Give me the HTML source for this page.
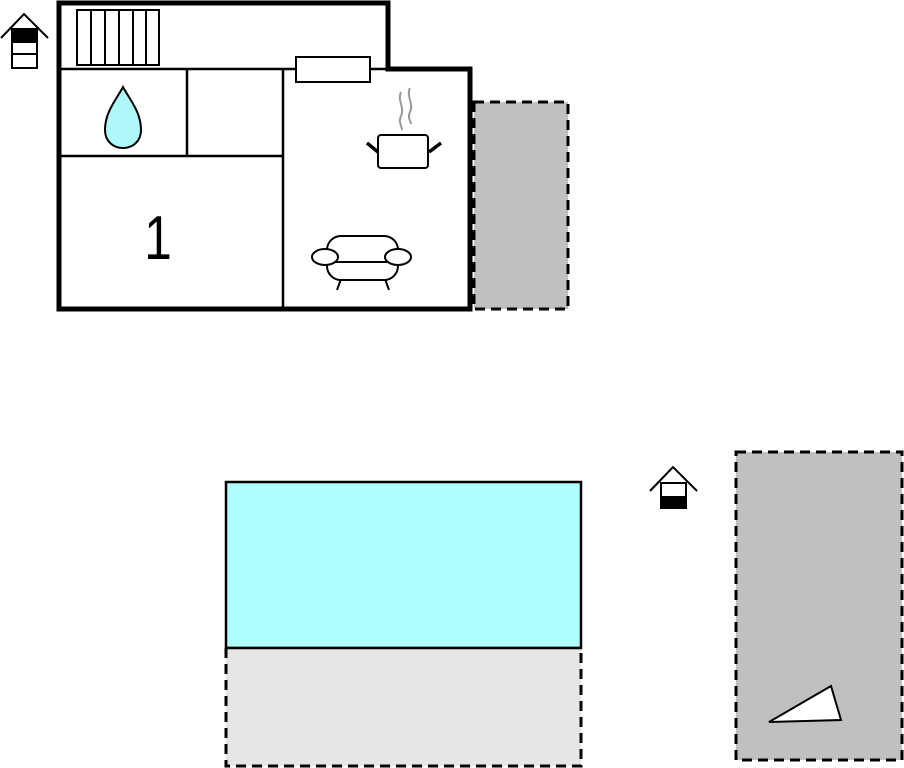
<!DOCTYPE html>
<html><head><style>body{margin:0;background:#fff;}svg{display:block}</style></head>
<body>
<svg width="904" height="768" viewBox="0 0 904 768" xmlns="http://www.w3.org/2000/svg">
<rect x="0" y="0" width="904" height="768" fill="#fff"/>
<rect x="474" y="102" width="94" height="207" fill="#c0c0c0" stroke="#000" stroke-width="3" stroke-dasharray="10,6"/>
<path d="M59,3 H388 V69 H470 V309 H59 Z" fill="#fff" stroke="#000" stroke-width="5"/>
<g stroke="#000" stroke-width="2.5" fill="none">
<line x1="59" y1="69" x2="388" y2="69"/>
<line x1="187" y1="69" x2="187" y2="156"/>
<line x1="59" y1="156" x2="283" y2="156"/>
<line x1="283" y1="69" x2="283" y2="307"/>
</g>
<g stroke="#000" stroke-width="2" fill="#fff">
<rect x="77" y="10" width="82" height="55"/>
<line x1="91" y1="10" x2="91" y2="65"/><line x1="105" y1="10" x2="105" y2="65"/>
<line x1="119" y1="10" x2="119" y2="65"/><line x1="133" y1="10" x2="133" y2="65"/>
<line x1="146" y1="10" x2="146" y2="65"/>
</g>
<rect x="296" y="57" width="74" height="25" fill="#fff" stroke="#000" stroke-width="2"/>
<path d="M123,87 C116,100 105,112 105,130 C105,142 114,148 123,148 C132,148 141,142 141,130 C141,112 130,100 123,87 Z" fill="#aef8fa" stroke="#000" stroke-width="2"/>
<text x="0" y="0" font-family="Liberation Sans, sans-serif" font-size="62" text-anchor="middle" transform="translate(158,259) scale(0.8,1)">1</text>
<g fill="none" stroke="#999" stroke-width="2">
<path d="M401,92 C397,100 405,108 401,116 C398,122 402,126 402,130"/>
<path d="M410,88 C406,96 414,104 410,112 C407,118 411,121 411,124"/>
</g>
<rect x="378" y="135" width="50" height="33" rx="3" fill="#fff" stroke="#000" stroke-width="2"/>
<g stroke="#000" stroke-width="3.5"><line x1="367" y1="143" x2="378" y2="152"/><line x1="441" y1="143" x2="429" y2="152"/></g>
<g fill="#fff" stroke="#000" stroke-width="2">
<line x1="341" y1="279" x2="337" y2="290"/><line x1="385" y1="279" x2="389" y2="290"/>
<rect x="327" y="236" width="71" height="44" rx="14"/>
<line x1="333" y1="262" x2="392" y2="262"/>
<ellipse cx="325" cy="257" rx="13" ry="8"/>
<ellipse cx="398" cy="257" rx="13" ry="8"/>
</g>
<g stroke="#000" stroke-width="2" fill="#fff">
<polyline points="1,38 24,14 48,38" fill="none"/>
<rect x="12" y="29" width="25" height="39"/>
<rect x="12" y="29" width="25" height="13" fill="#000"/>
<line x1="12" y1="54" x2="37" y2="54"/>
</g>
<rect x="226" y="482" width="355" height="166" fill="#b0ffff" stroke="#000" stroke-width="2.5"/>
<path d="M226,648 V766 H581 V648" fill="#e6e6e6" stroke="#000" stroke-width="3" stroke-dasharray="10,6"/>
<line x1="226" y1="648" x2="581" y2="648" stroke="#000" stroke-width="2.5"/>
<g stroke="#000" stroke-width="2" fill="#fff">
<polyline points="650,491 673,467 697,491" fill="none"/>
<rect x="661" y="483" width="25" height="25"/>
<rect x="661" y="497" width="25" height="11" fill="#000"/>
</g>
<rect x="736" y="452" width="166" height="308" fill="#c0c0c0" stroke="#000" stroke-width="3" stroke-dasharray="10,6"/>
<polygon points="769,722 831,686 841,720" fill="#fff" stroke="#000" stroke-width="2"/>
</svg>
</body></html>
